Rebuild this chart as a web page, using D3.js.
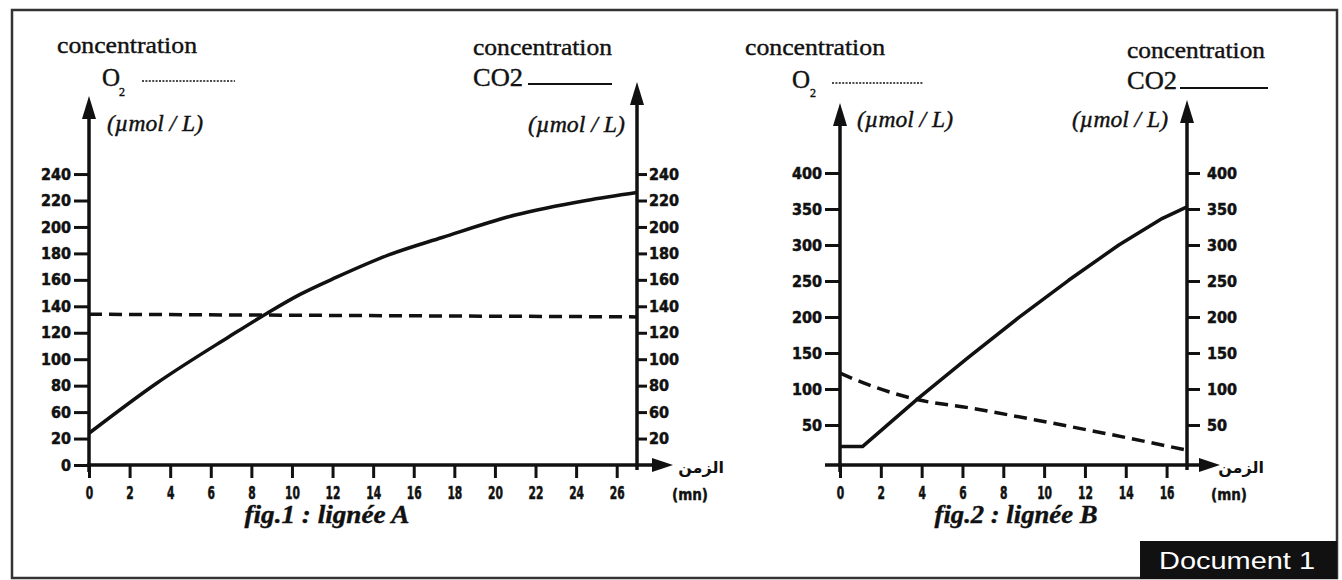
<!DOCTYPE html>
<html><head><meta charset="utf-8">
<script src="https://cdn.jsdelivr.net/npm/d3@7"></script>
<style>
html,body{margin:0;padding:0;background:#fff;}
svg{display:block;}
.ylab text{font-family:"DejaVu Sans Condensed","DejaVu Sans",sans-serif;font-stretch:condensed;font-weight:bold;font-size:16px;fill:#111;stroke:#111;stroke-width:0.5px;}
.xlab text{font-family:"DejaVu Sans Condensed","DejaVu Sans",sans-serif;font-stretch:condensed;font-weight:bold;font-size:17px;fill:#111;stroke:#111;stroke-width:0.5px;}
</style>
</head><body>
<svg id="chart" width="1342" height="580"></svg>
<script>
// ---------- DATA ----------
// fig.1 : lignée A
const yTicksA = [0,20,60,80,100,120,140,160,180,200,220,240];   // labels as printed (no 40)
const yTicksARight = [20,60,80,100,120,140,160,180,200,220,240];
const xTicksA = [0,2,4,6,8,10,12,14,16,18,20,22,24,26];
const timeA_co2 = [0,3.35,6.9,8.8,10.4,12.2,14.8,17.4,21.0,24.5,27];
const co2A      = [28,82,117,135,149,162,179,192,209,220,226];
const timeA_o2  = [0,13.5,27];
const o2A       = [134,133,132];
// fig.2 : lignée B
const yTicksB = [50,100,150,200,250,300,350,400];
const xTicksB = [0,2,4,6,8,10,12,14,16];
const timeB_co2 = [0,1.1,3.83,6.29,8.75,11.2,13.66,15.8,17];
const co2B      = [20,20,87,144,199,251,300,337,353];
const timeB_o2  = [0,1.38,3.83,6.29,9.58,12.87,17];
const o2B       = [122,106,85,74,57,39,15];

const svg = d3.select("#chart");
const ink = "#111";
const SERIF = '"Liberation Serif", "Times New Roman", Times, "DejaVu Serif", serif';

// border
svg.append("rect").attr("x",12).attr("y",10).attr("width",1325).attr("height",568)
  .attr("fill","none").attr("stroke","#333").attr("stroke-width",2.5);

function arrowUp(x, tip){
  svg.append("path").attr("d",`M${x},${tip} L${x-7},${tip+23} L${x+7},${tip+23} Z`).attr("fill",ink);
}
function arrowRight(tip, y){
  svg.append("path").attr("d",`M${tip},${y} L${tip-21},${y-7} L${tip-21},${y+7} Z`).attr("fill",ink);
}
function vline(x,y1,y2){ svg.append("line").attr("x1",x).attr("x2",x).attr("y1",y1).attr("y2",y2).attr("stroke",ink).attr("stroke-width",3.5); }
function hline(x1,x2,y){ svg.append("line").attr("x1",x1).attr("x2",x2).attr("y1",y).attr("y2",y).attr("stroke",ink).attr("stroke-width",3.5); }

function serifText(x,y,txt,size,opts={}){
  const t = svg.append("text").attr("x",x).attr("y",y)
    .attr("font-family",SERIF).style("font-family",SERIF)
    .style("font-size",size+"px").attr("fill",ink).text(txt);
  if(opts.italic) t.style("font-style","italic");
  if(opts.bold) t.style("font-weight","bold");
  if(opts.len) t.attr("textLength",opts.len).attr("lengthAdjust","spacingAndGlyphs");
  if(opts.anchor) t.attr("text-anchor",opts.anchor);
  t.attr("stroke",ink).attr("stroke-width",0.4);
  return t;
}

function styleAxis(g){
  g.select(".domain").remove();
  g.selectAll(".tick line").attr("stroke",ink).attr("stroke-width",3);
}

// ---------- FIG 1 ----------
const y0A = 465, stepA = 26.45;
const yA = d3.scaleLinear().domain(yTicksA).range(yTicksA.map((d,i)=>y0A - i*stepA));
const xA = d3.scaleLinear().domain([0,27]).range([89,637]);

svg.append("g").attr("class","ylab").attr("transform",`translate(${xA(0)},0)`)
  .call(d3.axisLeft(yA).tickValues(yTicksA).tickSize(15).tickPadding(3)).call(styleAxis);
svg.append("g").attr("class","ylab").attr("transform",`translate(${xA(27)},0)`)
  .call(d3.axisRight(yA).tickValues(yTicksARight).tickSize(10).tickPadding(2)).call(styleAxis);
const gxA = svg.append("g").attr("class","xlab").attr("transform",`translate(0,${y0A})`)
  .call(d3.axisBottom(xA).tickValues(xTicksA).tickSize(13).tickPadding(9)).call(styleAxis);
gxA.selectAll(".tick text").attr("transform","scale(0.7,1)");

vline(xA(0), 472, 110); arrowUp(xA(0), 96);
vline(xA(27), 470, 96); arrowUp(xA(27), 82);
hline(xA(0)-2, 655, y0A); arrowRight(673, y0A);

const lineA = (xs,ys,curve)=> d3.line().x((d,i)=>xA(xs[i])).y((d,i)=>yA(ys[i])).curve(curve)(ys);
svg.append("path").attr("d",lineA(timeA_co2,co2A,d3.curveMonotoneX))
  .attr("fill","none").attr("stroke",ink).attr("stroke-width",3.5);
svg.append("path").attr("d",lineA(timeA_o2,o2A,d3.curveMonotoneX))
  .attr("fill","none").attr("stroke",ink).attr("stroke-width",3.5).attr("stroke-dasharray","13,7");

// legends fig1
serifText(57,53,"concentration",24,{len:140});
serifText(102,86,"O",25);
serifText(119,96,"2",12);
svg.append("line").attr("x1",142).attr("x2",235).attr("y1",81).attr("y2",81)
  .attr("stroke",ink).attr("stroke-width",1.6).attr("stroke-dasharray","2,1.4");
serifText(107,131,"(µmol / L)",23,{italic:true,len:96});
serifText(473,55,"concentration",24,{len:139});
serifText(473,86,"CO2",25,{len:50});
svg.append("line").attr("x1",528).attr("x2",612).attr("y1",84).attr("y2",84).attr("stroke",ink).attr("stroke-width",2);
serifText(528,132,"(µmol / L)",23,{italic:true,len:97});

svg.append("text").attr("x",701).attr("y",473).attr("text-anchor","middle")
  .style("font-family","DejaVu Sans").style("font-weight","bold").style("font-size","16px").attr("fill",ink).text("الزمن");
svg.append("text").attr("x",690).attr("y",500).attr("text-anchor","middle")
  .style("font-family","DejaVu Sans Condensed, DejaVu Sans").style("font-stretch","condensed").style("font-weight","bold").style("font-size","15px").attr("fill",ink).attr("stroke",ink).attr("stroke-width",0.4).text("(mn)");

serifText(327,523,"fig.1 : lignée A",25,{italic:true,bold:true,anchor:"middle",len:165});

// ---------- FIG 2 ----------
const yB = d3.scaleLinear().domain([0,400]).range([461,173]);
const xB = d3.scaleLinear().domain([0,17]).range([840,1187]);
const y0B = 465;

svg.append("g").attr("class","ylab").attr("transform",`translate(${xB(0)},0)`)
  .call(d3.axisLeft(yB).tickValues(yTicksB).tickSize(15).tickPadding(3)).call(styleAxis);
svg.append("g").attr("class","ylab").attr("transform",`translate(${xB(17)},0)`)
  .call(d3.axisRight(yB).tickValues(yTicksB).tickSize(13).tickPadding(7)).call(styleAxis);
const gxB = svg.append("g").attr("class","xlab").attr("transform",`translate(0,${y0B})`)
  .call(d3.axisBottom(xB).tickValues(xTicksB).tickSize(13).tickPadding(9)).call(styleAxis);
gxB.selectAll(".tick text").attr("transform","scale(0.7,1)");

vline(xB(0), 472, 116); arrowUp(xB(0), 103);
vline(xB(17), 470, 114); arrowUp(xB(17), 100);
hline(825, 1202, y0B); arrowRight(1220, y0B);

const lineB = (xs,ys,curve)=> d3.line().x((d,i)=>xB(xs[i])).y((d,i)=>yB(ys[i])).curve(curve)(ys);
svg.append("path").attr("d",lineB(timeB_co2,co2B,d3.curveLinear))
  .attr("fill","none").attr("stroke",ink).attr("stroke-width",3.5).attr("stroke-linejoin","round");
svg.append("path").attr("d",lineB(timeB_o2,o2B,d3.curveMonotoneX))
  .attr("fill","none").attr("stroke",ink).attr("stroke-width",3.5).attr("stroke-dasharray","13,7");

serifText(745,55,"concentration",24,{len:140});
serifText(792,88,"O",25);
serifText(810,97,"2",12);
svg.append("line").attr("x1",832).attr("x2",923).attr("y1",83).attr("y2",83)
  .attr("stroke",ink).attr("stroke-width",1.6).attr("stroke-dasharray","2,1.4");
serifText(857,127,"(µmol / L)",23,{italic:true,len:96});
serifText(1127,58,"concentration",24,{len:138});
serifText(1127,89,"CO2",25,{len:50});
svg.append("line").attr("x1",1180).attr("x2",1268).attr("y1",88).attr("y2",88).attr("stroke",ink).attr("stroke-width",2);
serifText(1072,127,"(µmol / L)",23,{italic:true,len:96});

svg.append("text").attr("x",1241).attr("y",473).attr("text-anchor","middle")
  .style("font-family","DejaVu Sans").style("font-weight","bold").style("font-size","16px").attr("fill",ink).text("الزمن");
svg.append("text").attr("x",1229).attr("y",500).attr("text-anchor","middle")
  .style("font-family","DejaVu Sans Condensed, DejaVu Sans").style("font-stretch","condensed").style("font-weight","bold").style("font-size","15px").attr("fill",ink).attr("stroke",ink).attr("stroke-width",0.4).text("(mn)");

serifText(1016,523,"fig.2 : lignée B",25,{italic:true,bold:true,anchor:"middle",len:163});

// Document label
svg.append("rect").attr("x",1140).attr("y",541).attr("width",197).attr("height",38).attr("fill","#111");
svg.append("text").attr("x",1237).attr("y",569).attr("text-anchor","middle")
  .style("font-family","Liberation Sans, Arial, sans-serif").style("font-size","23px").attr("fill","#fff")
  .attr("textLength",156).attr("lengthAdjust","spacingAndGlyphs").text("Document 1");
</script>
</body></html>
